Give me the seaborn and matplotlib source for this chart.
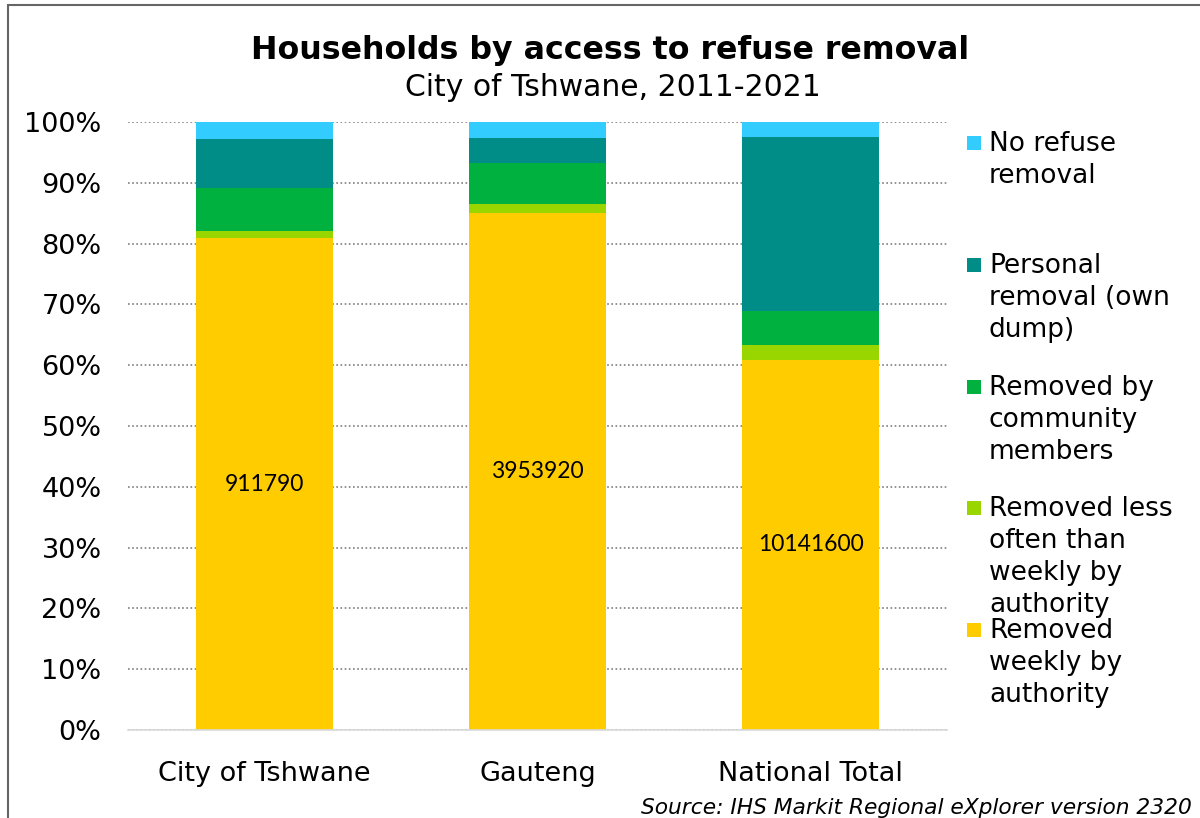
import matplotlib
matplotlib.use("Agg")
import matplotlib.pyplot as plt
from matplotlib.patches import Rectangle
from matplotlib.ticker import PercentFormatter, FixedLocator
import pandas as pd
import seaborn as sns

# Households by refuse-removal type (counts)
regions = ["City of Tshwane", "Gauteng", "National Total"]
weekly = [911790, 3953920, 10141600]
less_often = [12400, 65000, 399700]
community = [81100, 311300, 932600]
personal = [90200, 195100, 4779000]
no_removal = [31600, 120800, 399700]

categories = [
    "Removed weekly by authority",
    "Removed less often than weekly by authority",
    "Removed by community members",
    "Personal removal (own dump)",
    "No refuse removal",
]
legend_labels = [
    "Removed\nweekly by\nauthority",
    "Removed less\noften than\nweekly by\nauthority",
    "Removed by\ncommunity\nmembers",
    "Personal\nremoval (own\ndump)",
    "No refuse\nremoval",
]
colors = ["#FFCC00", "#99D600", "#00B140", "#008C87", "#33CCFF"]

sns.set_theme(style="white")
plt.rcParams["font.family"] = ["DejaVu Sans"]

counts = pd.DataFrame(
    dict(zip(categories, [weekly, less_often, community, personal, no_removal])),
    index=pd.Index(regions, name="region"),
)
shares = counts.div(counts.sum(axis=1), axis=0) * 100
cumulative = shares.cumsum(axis=1).reset_index()

W, H = 1200, 818
fig = plt.figure(figsize=(W / 100, H / 100), dpi=100)
ax = fig.add_axes([128 / W, 1 - 730 / H, (947 - 128) / W, (730 - 122) / H])

# stacked bars: draw cumulative totals from the top layer down
for cat, col in reversed(list(zip(categories, colors))):
    sns.barplot(data=cumulative, x="region", y=cat, order=regions, color=col,
                width=0.5, saturation=1, errorbar=None, ax=ax, linewidth=0)

weekly_bars = ax.containers[-1]
ax.bar_label(weekly_bars, labels=[str(v) for v in weekly], label_type="center",
             fontsize=16.5, family=["Lato", "DejaVu Sans"], color="#000000")

ax.set_xlim(-0.5, 2.5)
ax.set_ylim(0, 100)
ax.set_yticks(range(0, 101, 10))
ax.yaxis.set_major_formatter(PercentFormatter(decimals=0))
ax.set_xlabel("")
ax.set_ylabel("")
ax.set_axisbelow(True)
ax.yaxis.grid(True, linestyle=(0, (1, 1.5)), color="#7F7F7F", linewidth=1.2)
ax.xaxis.grid(False)
for side in ["top", "right", "left"]:
    ax.spines[side].set_visible(False)
ax.spines["bottom"].set_color("#D9D9D9")
ax.spines["bottom"].set_linewidth(1.2)

ax.xaxis.set_minor_locator(FixedLocator([-0.5, 0.5, 1.5, 2.5]))
ax.tick_params(axis="x", which="minor", length=16, direction="inout",
               color="#D9D9D9", width=1.2)
ax.tick_params(axis="x", which="major", length=0, pad=22, labelsize=19.5,
               labelcolor="#000000")
ax.tick_params(axis="y", length=0, pad=19, labelsize=19.5, labelcolor="#000000")

# titles
fig.text(0.508, 1 - 50 / H, "Households by access to refuse removal",
         ha="center", va="center", fontsize=22.8, fontweight="bold", color="#000000")
fig.text(0.511, 1 - 87 / H, "City of Tshwane, 2011-2021",
         ha="center", va="center", fontsize=21.5, color="#000000")

# legend
first_line_y = [630, 508, 387, 265, 143]
for lab, col, yc in zip(legend_labels, colors, first_line_y):
    fig.patches.append(Rectangle((967 / W, 1 - (yc + 7) / H), 14 / W, 14 / H,
                                 transform=fig.transFigure, facecolor=col,
                                 edgecolor="none"))
    fig.text(989 / W, 1 - (yc - 12) / H, lab, ha="left", va="top",
             fontsize=19, linespacing=1.3, color="#000000")

# source note
fig.text(1192 / W, 1 - 808 / H,
         "Source: IHS Markit Regional eXplorer version 2320",
         ha="right", va="center", fontsize=15.7, style="italic", color="#000000")

# chart frame
fig.patches.append(Rectangle((8 / W, -0.1), 1.2, 1.1 - 5 / H,
                             transform=fig.transFigure, fill=False,
                             edgecolor="#666666", linewidth=1.5))

fig.savefig("out.png", dpi=100)
